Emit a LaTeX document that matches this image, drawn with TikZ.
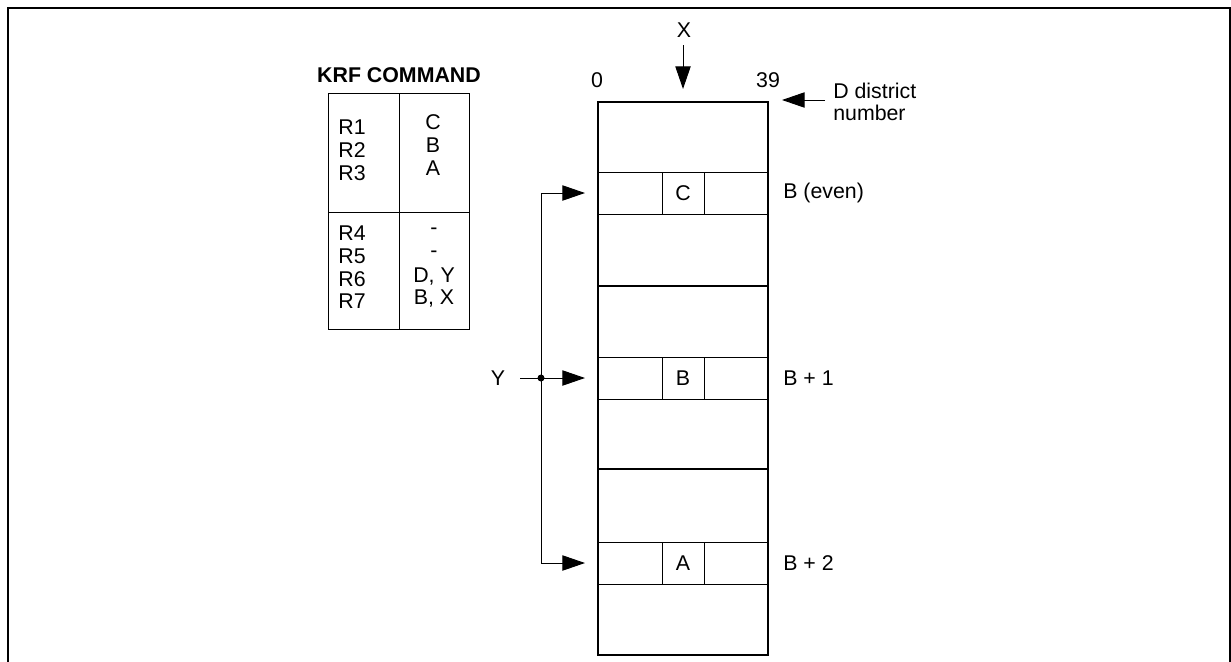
\documentclass[tikz,border=0pt]{standalone}
\usepackage{fontspec}
\setmainfont{Liberation Sans}
\usetikzlibrary{positioning, arrows.meta}

\tikzset{
  lbl/.style={font=\fontsize{16}{17}\selectfont, inner sep=0pt},
  thin line/.style={line width=0.75pt},
  thick line/.style={line width=1.5pt},
  bigtip/.style={-{Triangle[length=17pt, width=11.5pt]}, line width=0.75pt},
}

\begin{document}
\begin{tikzpicture}[x=0.75pt, y=-0.75pt]
  \useasboundingbox (0,0) rectangle (1231,661);

  % Open frame (no bottom edge)
  \draw[thick line] (8,662) -- (8,8) -- (1229.5,8) -- (1229.5,662);

  % KRF COMMAND table
  \node[lbl, font=\fontsize{16}{17}\selectfont\bfseries] (title) at (399,75) {KRF COMMAND};
  \draw[thin line] (328,93) rectangle (469,329);
  \draw[thin line] (399,93) -- (399,329);
  \draw[thin line] (328,212) -- (469,212);
  \foreach \reg/\val/\y in {R1/C/127, R2/B/150, R3/A/173} {
    \node[lbl] (reg\reg) at (352,\y) {\reg};
    \node[lbl] (val\reg) at (433,\y-5) {\val};
  }
  \foreach \reg/\val/\y in {R4/-/233, R5/-/256, R6/{D, Y}/279, R7/{B, X}/301} {
    \node[lbl] (reg\reg) at (352,\y) {\reg};
    \node[lbl] (val\reg) at (434,\y-2) {\val};
  }

  % Memory area
  \draw[thick line] (598,102) rectangle (768,655);
  \draw[thick line] (598,286) -- (768,286);
  \draw[thick line] (598,469) -- (768,469);

  % Rows holding C, B and A
  \foreach \name/\top/\txt/\side in {rowC/172/C/B (even), rowB/357/B/B + 1, rowA/542/A/B + 2} {
    \draw[thin line] (598,\top) -- (768,\top);
    \draw[thin line] (598,\top+42) -- (768,\top+42);
    \draw[thin line] (662,\top) -- (662,\top+42);
    \draw[thin line] (704,\top) -- (704,\top+42);
    \node[lbl] (\name) at (683,\top+21) {\txt};
    \coordinate (\name-in) at (585,\top+21);
    \node[lbl, anchor=west] (\name-lbl) at (783,\top+21) {\side};
  }

  % District numbers and X
  \node[lbl] (d0) at (597,80) {0};
  \node[lbl] (d39) at (768,80) {39};
  \node[lbl] (xlbl) at (684,30) {X};
  \coordinate (xtop) at (683,45);
  \coordinate (xtip) at (683,89);
  \draw[bigtip] (xtop) -- (xtip);

  \node[lbl, anchor=west, align=left, font=\fontsize{16}{16}\selectfont] (dlbl) at (833,102) {D district\\number};
  \coordinate (dtail) at (825,100);
  \coordinate (dtip) at (782,100);
  \draw[bigtip] (dtail) -- (dtip);

  % Y lines
  \node[lbl] (ylbl) at (498,378) {Y};
  \coordinate (yjoin) at (541,378);
  \draw[thin line] (ylbl.east) ++(15,0) -- (yjoin);
  \draw[thin line] (541,193) -- (541,563);
  \draw[bigtip] (541,193) -- (rowC-in);
  \draw[bigtip] (yjoin) -- (rowB-in);
  \draw[bigtip] (541,563) -- (rowA-in);
  \fill (yjoin) circle (3.5);
\end{tikzpicture}
\end{document}
